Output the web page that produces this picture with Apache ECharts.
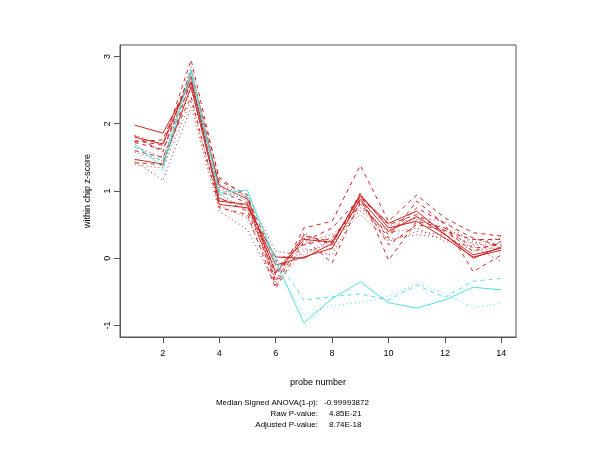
<!DOCTYPE html>
<html>
<head>
<meta charset="utf-8">
<script src="https://cdn.jsdelivr.net/npm/echarts@6/dist/echarts.min.js"></script>
<style>html,body{margin:0;padding:0;background:#fff}#c{width:600px;height:450px}</style>
</head>
<body>
<div id="c"></div>
<script>
const probes = [1,2,3,4,5,6,7,8,9,10,11,12,13,14];
const xTicks = [2,4,6,8,10,12,14];
const yTicks = [-1,0,1,2,3];

const red1  = [1.98, 1.86, 2.62, 1.08, 0.88, -0.22, 0.28, 0.24, 0.92, 0.52, 0.70, 0.36, 0.00, 0.17];
const red2  = [1.47, 1.40, 2.55, 0.85, 0.80, -0.10, 0.02, 0.15, 0.88, 0.40, 0.62, 0.35, 0.05, 0.15];
const red3  = [1.80, 1.70, 2.70, 0.80, 0.75, 0.02, 0.00, 0.22, 0.95, 0.45, 0.55, 0.30, 0.02, 0.12];
const red4  = [1.75, 1.68, 2.95, 1.15, 0.95, -0.35, 0.45, 0.55, 1.38, 0.55, 0.94, 0.60, 0.38, 0.33];
const red5  = [1.82, 1.58, 2.80, 1.00, 0.82, -0.40, 0.35, 0.20, 0.97, -0.03, 0.55, 0.45, 0.15, 0.20];
const red6  = [1.42, 1.39, 2.65, 0.90, 0.70, -0.25, 0.30, -0.07, 0.85, 0.30, 0.85, 0.50, -0.20, 0.05];
const red7  = [1.60, 1.50, 2.40, 0.75, 0.65, -0.45, 0.25, 0.45, 0.90, 0.50, 0.65, 0.40, 0.28, 0.28];
const red8  = [1.73, 1.76, 2.75, 1.20, 0.90, -0.05, 0.20, 0.30, 0.80, 0.35, 0.75, 0.52, 0.30, 0.18];
const red9  = [1.45, 1.16, 2.25, 0.70, 0.42, -0.40, 0.10, 0.20, 0.75, 0.38, 0.45, 0.25, 0.18, -0.05];
const red10 = [1.39, 1.34, 2.35, 0.78, 0.60, -0.30, 0.15, 0.05, 0.82, 0.25, 0.40, 0.35, 0.22, 0.30];
const red11 = [1.66, 1.50, 2.50, 0.95, 0.72, -0.15, 0.22, 0.35, 0.70, 0.42, 0.58, 0.45, 0.25, 0.10];
const red12 = [1.58, 1.45, 2.85, 1.05, 0.85, -0.35, 0.38, 0.12, 0.93, 0.48, 0.60, 0.55, 0.20, 0.22];
const red13 = [1.72, 1.62, 2.60, 0.88, 0.78, -0.20, 0.33, 0.25, 0.87, 0.20, 0.50, 0.42, 0.10, 0.25];
const red14 = [1.83, 1.68, 2.70, 1.10, 0.92, 0.10, 0.05, 0.28, 0.65, 0.28, 0.35, 0.30, 0.12, 0.16];

const cyan1 = [1.70, 1.35, 2.80, 0.98, 1.01, -0.05, -0.96, -0.60, -0.35, -0.66, -0.74, -0.62, -0.43, -0.47];
const cyan2 = [1.65, 1.45, 2.75, 0.95, 0.95, 0.00, -0.62, -0.57, -0.53, -0.62, -0.40, -0.58, -0.34, -0.30];
const cyan3 = [1.60, 1.30, 2.70, 0.88, 0.92, -0.10, -0.85, -0.70, -0.66, -0.57, -0.37, -0.52, -0.73, -0.67];

const statLabels = ['Median Signed ANOVA(1-p):', 'Raw P-value:', 'Adjusted P-value:'];
const statValues = ['-0.99993872', '4.85E-21', '8.74E-18'];

const RED = '#cd2626', CYAN = '#4fe3e3';
const SOLID = 'solid', DASH = [4,4], DOT = [1,3];

const seriesDefs = [
  [red1, RED, SOLID], [red2, RED, SOLID], [red3, RED, SOLID],
  [red4, RED, DASH], [red5, RED, DASH], [red6, RED, DASH], [red7, RED, DASH], [red8, RED, DASH], [red13, RED, DASH],
  [red9, RED, DOT], [red10, RED, DOT], [red11, RED, DOT], [red12, RED, DOT], [red14, RED, DOT],
  [cyan1, CYAN, SOLID], [cyan2, CYAN, DASH], [cyan3, CYAN, DOT]
];

const FONT = 'Liberation Sans, Arial, sans-serif';
const chart = echarts.init(document.getElementById('c'), null, {renderer: 'canvas'});

const graphics = [];
const rowY = [403, 414, 425];
statLabels.forEach((t, i) => {
  graphics.push({type: 'text', x: 318, y: rowY[i],
    style: {text: t, fill: '#000', font: '8px ' + FONT, textAlign: 'right', textVerticalAlign: 'middle'}});
});
const valX = [324, 329, 329];
statValues.forEach((t, i) => {
  graphics.push({type: 'text', x: valX[i], y: rowY[i],
    style: {text: t, fill: '#000', font: '8px ' + FONT, textAlign: 'left', textVerticalAlign: 'middle'}});
});

chart.setOption({
  animation: false,
  backgroundColor: '#fff',
  grid: {left: 120, right: 84, top: 45, bottom: 113, show: true, borderColor: '#555', borderWidth: 1, backgroundColor: 'transparent'},
  xAxis: {
    type: 'value', min: 0.48, max: 14.52,
    name: 'probe number', nameLocation: 'middle', nameGap: 41,
    nameTextStyle: {color: '#000', fontSize: 9, fontFamily: FONT},
    axisLine: {show: true, onZero: false, lineStyle: {color: '#555'}},
    axisTick: {show: true, length: 6, inside: false, customValues: xTicks, lineStyle: {color: '#555'}},
    axisLabel: {customValues: xTicks, color: '#000', fontSize: 9, fontFamily: FONT, margin: 12},
    splitLine: {show: false}
  },
  yAxis: {
    type: 'value', min: -1.17, max: 3.17,
    name: 'within chip z-score', nameLocation: 'middle', nameGap: 28, nameRotate: 90,
    nameTextStyle: {color: '#000', fontSize: 9, fontFamily: FONT},
    axisLine: {show: true, onZero: false, lineStyle: {color: '#555'}},
    axisTick: {show: true, length: 6, inside: false, customValues: yTicks, lineStyle: {color: '#555'}},
    axisLabel: {customValues: yTicks, color: '#000', fontSize: 9, fontFamily: FONT, rotate: 90, margin: 8},
    splitLine: {show: false}
  },
  series: seriesDefs.map(([vals, color, type]) => ({
    type: 'line',
    data: probes.map((p, i) => [p, vals[i]]),
    symbol: 'none',
    lineStyle: {color: color, width: 1, type: type},
    silent: true
  })),
  graphic: graphics
});
</script>
</body>
</html>
